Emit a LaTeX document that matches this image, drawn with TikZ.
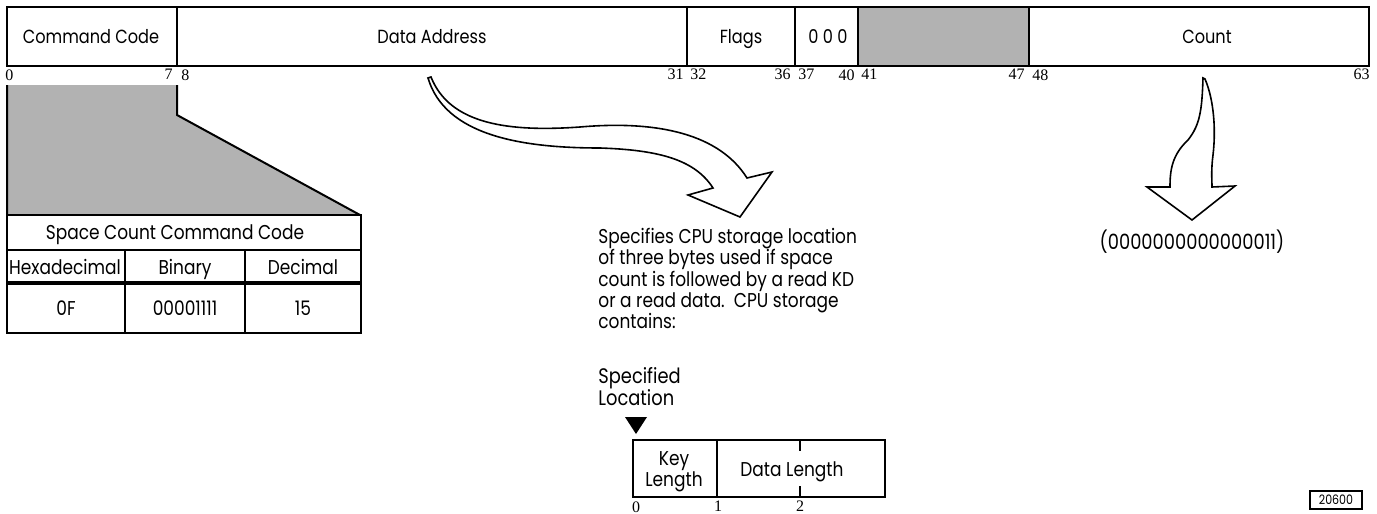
\documentclass[tikz,border=0pt]{standalone}
\usepackage{fontspec}
\setmainfont{Poppins}[FakeStretch=0.85]
\newfontfamily\bitfont{Liberation Serif}
\usepackage{tikz}
\usetikzlibrary{positioning}

\tikzset{
  field/.style={draw, line width=1pt},
  halftone/.style={fill=black!30},
  swoosh/.style={draw, line width=0.8pt, fill=white},
  lbl/.style={font=\fontsize{9.5}{10.5}\selectfont, inner sep=0pt, text height=1.6ex, text depth=0.3ex},
  tbl/.style={font=\fontsize{10}{11}\selectfont, inner sep=0pt, text height=1.6ex, text depth=0.3ex},
  note/.style={font=\fontsize{10}{10.6}\selectfont, inner sep=0pt},
  bitno/.style={font=\bitfont\fontsize{8}{8}\selectfont, inner sep=0pt},
}

\begin{document}
\begin{tikzpicture}[x=0.5pt,y=-0.5pt]
  \useasboundingbox (0,0) rectangle (1377,514);
  % format of the space count command
  \fill[halftone] (858,7) rectangle (1029,66);
  \draw[field] (7,7) rectangle (1369,66);
  \draw[field] (177,7) -- (177,66) (687,7) -- (687,66) (795,7) -- (795,66)
    (858,7) -- (858,66) (1029,7) -- (1029,66);
  \node[lbl] (cmd) at (91,36) {Command Code};
  \node[lbl] (addr) at (432,36) {Data Address};
  \node[lbl] (flags) at (741,36) {Flags};
  \node[lbl] (zeros) at (828,36) {0 0 0};
  \node[lbl] (count) at (1207,36) {Count};
  % bit numbers
  \node[bitno, anchor=north west] (b0) at (5,69) {0};
  \node[bitno, anchor=north east] (b7) at (173,69) {7};
  \node[bitno, anchor=north west] (b8) at (181,69) {8};
  \node[bitno, anchor=north east] (b31) at (684,69) {31};
  \node[bitno, anchor=north west] (b32) at (690,69) {32};
  \node[bitno, anchor=north east] (b36) at (791,69) {36};
  \node[bitno, anchor=north west] (b37) at (798,69) {37};
  \node[bitno, anchor=north east] (b40) at (855,69) {40};
  \node[bitno, anchor=north west] (b41) at (861,69) {41};
  \node[bitno, anchor=north east] (b47) at (1025,69) {47};
  \node[bitno, anchor=north west] (b48) at (1032,69) {48};
  \node[bitno, anchor=north east] (b63) at (1370,69) {63};

  % command code blow-up
  \fill[halftone] (7,85) -- (177,85) -- (177,115) -- (360,215) -- (7,215) -- cycle;
  \draw[field] (7,85) -- (7,215) (177,85) -- (177,115) -- (360,215);
  \draw[field] (7,215) rectangle (361,333);
  \draw[field] (7,250) -- (361,250) (125,250) -- (125,333) (245,250) -- (245,333);
  \draw[line width=2pt] (7,283) -- (361,283);
  \node[tbl] (title) at (175,232) {Space Count Command Code};
  \node[tbl] (hexhd) at (65,267) {Hexadecimal};
  \node[tbl] (binhd) at (185,267) {Binary};
  \node[tbl] (dechd) at (303,267) {Decimal};
  \node[tbl] (hex) at (66,308) {0F};
  \node[tbl] (bin) at (185,308) {00001111};
  \node[tbl] (dec) at (303,308) {15};

  % data address arrow
  \draw[swoosh] (431,77) .. controls (450,125) and (510,132) .. (580,127)
    .. controls (660,120) and (720,135) .. (747,178)
    -- (772,172) -- (740,217) -- (688,195) -- (713,188)
    .. controls (695,160) and (660,150) .. (600,148)
    .. controls (520,148) and (445,135) .. (428,78) -- cycle;
  \node[note, anchor=north west, align=left] (desc) at (598,228)
    {Specifies CPU storage location\\
     of three bytes used if space\\
     count is followed by a read KD\\
     or a read data.\ \ CPU storage\\
     contains:};

  % storage layout
  \node[note, anchor=north west, align=left, font=\fontsize{10.5}{11}\selectfont]
    (spec) at (598,367) {Specified\\Location};
  \fill (625,417) -- (647,417) -- (636,434) -- cycle;
  \draw[field] (633,440) rectangle (885,497);
  \draw[field] (717,440) -- (717,497);
  \draw[field] (800,440) -- (800,451) (800,486) -- (800,497);
  \node[note, align=center] (keylen) at (674,472) {Key\\Length};
  \node[note] (datalen) at (792,472) {Data Length};
  \node[bitno, anchor=north] (y0) at (636,501) {0};
  \node[bitno, anchor=north] (y1) at (718,501) {1};
  \node[bitno, anchor=north] (y2) at (800,501) {2};

  % count arrow
  \draw[swoosh] (1203,78) .. controls (1202,110) and (1200,125) .. (1188,140)
    .. controls (1172,155) and (1170,170) .. (1170,187)
    -- (1147,187) -- (1192,220) -- (1235,186) -- (1212,187)
    .. controls (1212,180) and (1211,170) .. (1213,155)
    .. controls (1216,130) and (1214,100) .. (1205,79) -- cycle;
  \node[note, font=\fontsize{10.5}{11}\selectfont] (value) at (1192,242) {(0000000000000011)};

  \node[draw, line width=0.6pt, inner sep=0pt, minimum width=26pt, minimum height=9pt,
    font=\fontsize{6.5}{7}\selectfont] (fig) at (1336,500) {20600};
\end{tikzpicture}
\end{document}
